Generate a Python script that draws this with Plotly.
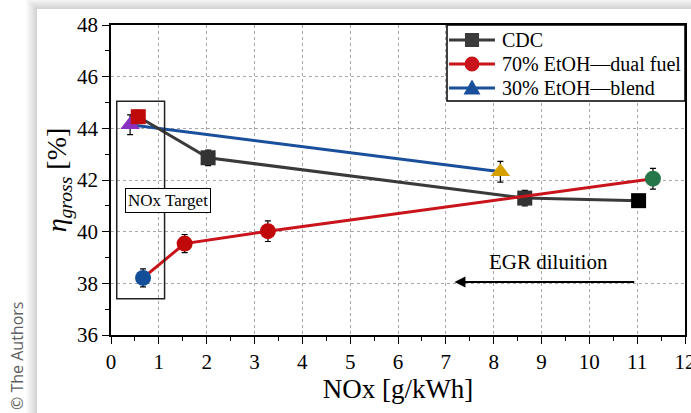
import plotly.graph_objects as go

# ---------------- data ----------------
cdc_x = [0.57, 2.03, 8.65, 11.03]
cdc_y = [44.45, 42.86, 41.30, 41.20]
cdc_err = [0.25, 0.30, 0.30, 0.20]
cdc_colors = ["#c00a0a", "#333333", "#333333", "#000000"]

dual_x = [0.67, 1.54, 3.28, 11.33]
dual_y = [38.21, 39.54, 40.02, 42.05]
dual_err = [0.35, 0.35, 0.40, 0.40]
dual_colors = ["#124f98", "#c00a0a", "#c00a0a", "#25774a"]

blend_x = [0.40, 8.14]
blend_y = [44.14, 42.32]
blend_err = [0.38, 0.40]
blend_colors = ["#8a30c0", "#d6a000"]

series_names = ["CDC", "70% EtOH\u2014dual fuel", "30% EtOH\u2014blend"]
x_ticks = list(range(0, 13))
y_ticks = [36, 38, 40, 42, 44, 46, 48]

# ---------------- layout geometry ----------------
W, H = 691, 413
ML, MR, MT, MB = 111, 6, 25, 78
PW, PH = W - ML - MR, H - MT - MB


def xp(px):
    return (px - ML) / PW


def yp(py):
    return (H - MB - py) / PH


SERIF = "Liberation Serif, Times New Roman, serif"
CDC_LINE = "#3a3a3a"
RED_LINE = "#c8141a"
BLUE_LINE = "#1a4f9c"
series_line_colors = [CDC_LINE, RED_LINE, BLUE_LINE]
series_symbols = ["square", "circle", "triangle"]

fig = go.Figure()

err_style = dict(type="data", visible=True, color="black", thickness=1.2, width=3)

# blend (drawn first: below)
fig.add_trace(go.Scatter(
    x=blend_x, y=blend_y, mode="lines+markers", name=series_names[2], showlegend=False,
    line=dict(color=BLUE_LINE, width=3),
    marker=dict(symbol="triangle-up", size=17, color=blend_colors),
    error_y=dict(array=blend_err, **err_style),
))
# CDC
fig.add_trace(go.Scatter(
    x=cdc_x, y=cdc_y, mode="lines+markers", name=series_names[0], showlegend=False,
    line=dict(color=CDC_LINE, width=3),
    marker=dict(symbol="square", size=15, color=cdc_colors),
    error_y=dict(array=cdc_err, **err_style),
))
# dual fuel
fig.add_trace(go.Scatter(
    x=dual_x, y=dual_y, mode="lines+markers", name=series_names[1], showlegend=False,
    line=dict(color=RED_LINE, width=3),
    marker=dict(symbol="circle", size=16, color=dual_colors),
    error_y=dict(array=dual_err, **err_style),
))

shapes = []
# page shadow + card
for k in range(1, 12):
    shapes.append(dict(
        type="rect", xref="paper", yref="paper", layer="below",
        x0=xp(37 - k), x1=xp(720), y0=yp(440), y1=yp(9 - k),
        fillcolor="rgba(0,0,0,0.016)", line=dict(width=0),
    ))
shapes.append(dict(
    type="rect", xref="paper", yref="paper", layer="below",
    x0=xp(37), x1=xp(720), y0=yp(440), y1=yp(9),
    fillcolor="white", line=dict(width=0),
))
# NOx target box
shapes.append(dict(
    type="rect", xref="x", yref="y", layer="above",
    x0=0.12, x1=1.12, y0=37.4, y1=45.05,
    line=dict(color="#222222", width=1.5), fillcolor="rgba(0,0,0,0)",
))

annotations = [
    dict(text="NOx Target", x=1.2, y=41.22, xref="x", yref="y", showarrow=False,
         font=dict(family=SERIF, size=17, color="black"), bgcolor="white",
         bordercolor="black", borderwidth=1, borderpad=2),
    dict(text="EGR diluition", x=9.15, y=38.81, xref="x", yref="y", showarrow=False,
         font=dict(family=SERIF, size=21, color="black")),
    dict(text="", x=7.18, y=38.05, ax=10.97, ay=38.05, xref="x", yref="y",
         axref="x", ayref="y", showarrow=True, arrowhead=2, arrowsize=1.1,
         arrowwidth=2, arrowcolor="black"),
    dict(text="\u00a9 The Authors", x=xp(17), y=yp(356), xref="paper", yref="paper",
         xanchor="center", yanchor="middle",
         showarrow=False, textangle=-90,
         font=dict(family="Open Sans, DejaVu Sans, sans-serif", size=16, color="#606060")),
]

# ---------------- custom legend (box, line samples, symbols, labels) ----------------
LEG_L, LEG_R, LEG_T, LEG_B = 447, 685, 25, 101
shapes.append(dict(
    type="rect", xref="paper", yref="paper", layer="above",
    x0=xp(LEG_L), x1=xp(LEG_R), y0=yp(LEG_B), y1=yp(LEG_T),
    fillcolor="white", line=dict(color="black", width=1.5),
))
row_y = [40, 64, 88]
line_x0, line_x1, sym_x, text_x = 449, 495, 472, 500
for i, name in enumerate(series_names):
    cy = row_y[i]
    col = series_line_colors[i]
    shapes.append(dict(
        type="line", xref="paper", yref="paper", layer="above",
        x0=xp(line_x0), x1=xp(line_x1), y0=yp(cy), y1=yp(cy),
        line=dict(color=col, width=3),
    ))
    sym = series_symbols[i]
    if sym == "square":
        r = 7
        shapes.append(dict(
            type="rect", xref="paper", yref="paper", layer="above",
            x0=xp(sym_x - r), x1=xp(sym_x + r), y0=yp(cy + r), y1=yp(cy - r),
            fillcolor=col, line=dict(width=0),
        ))
    elif sym == "circle":
        r = 7.5
        shapes.append(dict(
            type="circle", xref="paper", yref="paper", layer="above",
            x0=xp(sym_x - r), x1=xp(sym_x + r), y0=yp(cy + r), y1=yp(cy - r),
            fillcolor=col, line=dict(width=0),
        ))
    else:
        hw, up, dn = 8.5, 8.5, 6.5
        path = "M {:.5f},{:.5f} L {:.5f},{:.5f} L {:.5f},{:.5f} Z".format(
            xp(sym_x - hw), yp(cy + dn), xp(sym_x + hw), yp(cy + dn), xp(sym_x), yp(cy - up))
        shapes.append(dict(
            type="path", xref="paper", yref="paper", layer="above",
            path=path, fillcolor=col, line=dict(width=0),
        ))
    annotations.append(dict(
        text=name, x=xp(text_x), y=yp(cy), xref="paper", yref="paper",
        xanchor="left", yanchor="middle", showarrow=False,
        font=dict(family=SERIF, size=20, color="black"),
    ))

axis_common = dict(
    showline=True, linecolor="black", linewidth=1.5, mirror=True,
    ticks="outside", ticklen=7, tickwidth=1.2, tickcolor="black",
    showgrid=True, gridcolor="#a8a8a8", griddash="dot", gridwidth=1,
    zeroline=False, automargin=False, ticklabeloverflow="allow",
    tickfont=dict(family=SERIF, size=21, color="black"),
)

fig.update_xaxes(
    range=[0, 12], tickvals=x_ticks, ticktext=[str(v) for v in x_ticks],
    minor=dict(dtick=0.5, ticks="outside", ticklen=4, tickcolor="black", showgrid=False),
    title=dict(text="NOx [g/kWh]", font=dict(family=SERIF, size=27, color="black"), standoff=4),
    **axis_common,
)
fig.update_yaxes(
    range=[36, 48], tickvals=y_ticks, ticktext=[str(v) for v in y_ticks],
    minor=dict(dtick=1, ticks="outside", ticklen=4, tickcolor="black", showgrid=False),
    title=dict(text="<i>\u03b7</i><sub><i>gross</i></sub> [%]",
               font=dict(family=SERIF, size=28, color="black"), standoff=2),
    **axis_common,
)

fig.update_layout(
    width=W, height=H,
    margin=dict(l=ML, r=MR, t=MT, b=MB, pad=0, autoexpand=False),
    paper_bgcolor="white", plot_bgcolor="rgba(0,0,0,0)",
    shapes=shapes, annotations=annotations,
    showlegend=False,
)

fig.write_html("out.html")
